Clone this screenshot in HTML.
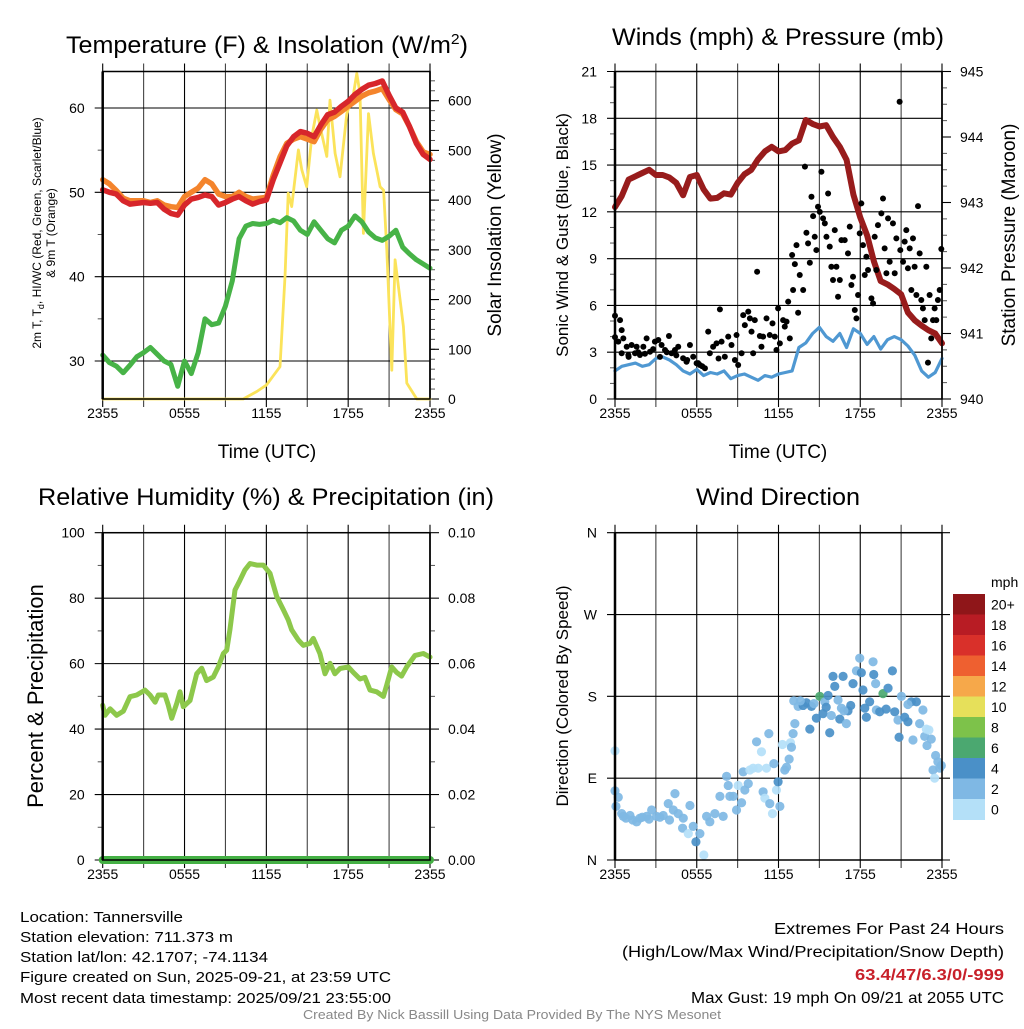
<!DOCTYPE html>
<html><head><meta charset="utf-8"><style>
html,body{margin:0;padding:0;background:#fff}
svg text{font-family:"Liberation Sans",Arial,sans-serif;fill:#000}
</style></head><body>
<svg id="svg" width="1024" height="1024" viewBox="0 0 1024 1024" xmlns="http://www.w3.org/2000/svg">
<rect width="1024" height="1024" fill="#fff"/>
<g id="layer"></g>
<text x="267" y="53" font-size="24" text-anchor="middle" textLength="402" lengthAdjust="spacingAndGlyphs">Temperature (F) &amp; Insolation (W/m<tspan dy="-9" font-size="15">2</tspan><tspan dy="9">)</tspan></text>
<text x="778" y="45" font-size="24" text-anchor="middle" textLength="332" lengthAdjust="spacingAndGlyphs">Winds (mph) &amp; Pressure (mb)</text>
<text x="266" y="505" font-size="24" text-anchor="middle" textLength="456" lengthAdjust="spacingAndGlyphs">Relative Humidity (%) &amp; Precipitation (in)</text>
<text x="778" y="505" font-size="24" text-anchor="middle" textLength="164" lengthAdjust="spacingAndGlyphs">Wind Direction</text>
<text x="267" y="458" font-size="19" text-anchor="middle">Time (UTC)</text>
<text x="778" y="458" font-size="19" text-anchor="middle">Time (UTC)</text>
<text transform="translate(41,233) rotate(-90)" font-size="12" text-anchor="middle">2m T, T<tspan font-size="9" dy="3">d</tspan><tspan dy="-3">, HI/WC (Red, Green, Scarlet/Blue)</tspan></text>
<text transform="translate(55,233) rotate(-90)" font-size="12" text-anchor="middle">&amp; 9m T (Orange)</text>
<text transform="translate(501,235) rotate(-90)" font-size="19" text-anchor="middle">Solar Insolation (Yellow)</text>
<text transform="translate(568,235) rotate(-90)" font-size="17" text-anchor="middle">Sonic Wind &amp; Gust (Blue, Black)</text>
<text transform="translate(1015,235) rotate(-90)" font-size="19" text-anchor="middle">Station Pressure (Maroon)</text>
<text transform="translate(43,696) rotate(-90)" font-size="22" text-anchor="middle">Percent &amp; Precipitation</text>
<text transform="translate(568,696) rotate(-90)" font-size="17" text-anchor="middle">Direction (Colored By Speed)</text>
<text x="991" y="587" font-size="14">mph</text>
<g font-size="15">
<text x="20" y="922" textLength="163" lengthAdjust="spacingAndGlyphs">Location: Tannersville</text>
<text x="20" y="942" textLength="213" lengthAdjust="spacingAndGlyphs">Station elevation: 711.373 m</text>
<text x="20" y="962" textLength="248" lengthAdjust="spacingAndGlyphs">Station lat/lon: 42.1707; -74.1134</text>
<text x="20" y="982" textLength="371" lengthAdjust="spacingAndGlyphs">Figure created on Sun, 2025-09-21, at 23:59 UTC</text>
<text x="20" y="1003" textLength="371" lengthAdjust="spacingAndGlyphs">Most recent data timestamp: 2025/09/21 23:55:00</text>
</g>
<g font-size="16" text-anchor="end">
<text x="1004" y="934" textLength="230" lengthAdjust="spacingAndGlyphs">Extremes For Past 24 Hours</text>
<text x="1004" y="957" textLength="382" lengthAdjust="spacingAndGlyphs">(High/Low/Max Wind/Precipitation/Snow Depth)</text>
<text x="1004" y="980" style="fill:#c8202a" font-weight="bold" textLength="149" lengthAdjust="spacingAndGlyphs">63.4/47/6.3/0/-999</text>
<text x="1004" y="1003" textLength="313" lengthAdjust="spacingAndGlyphs">Max Gust: 19 mph On 09/21 at 2055 UTC</text>
</g>
<text x="512" y="1019" font-size="13" text-anchor="middle" style="fill:#888" textLength="418" lengthAdjust="spacingAndGlyphs">Created By Nick Bassill Using Data Provided By The NYS Mesonet</text>
</svg>
<script>
// ---- data ----
const halfHours=[];for(let i=0;i<=48;i++)halfHours.push(i/2);
const tempRed=[50.3,50,49.8,49,48.6,48.7,48.8,48.7,48.8,48,47.5,47.3,48.5,49.2,49.4,49.7,49.5,48.5,48.8,49.2,49.5,49,48.6,48.9,49.1,51.5,53.5,55.5,56.6,57.2,57,56.6,58,59.2,59.5,60.2,60.8,61.6,62.2,62.7,62.9,63.2,61.5,60,59.5,57.8,55.8,54.5,53.9];
const tempOrange=[51.5,51,50.2,49.3,49,49,49,48.8,49,48.5,48.3,48.2,49.5,50,50.5,51.5,51,49.8,49.5,49.5,50,49.5,49.2,49.3,49.4,52,54.2,55.8,56.3,56.6,56.3,56,57.5,58.6,59,59.6,60.2,60.8,61.4,61.8,62,62.3,61,59.8,59.3,57.8,56,54.8,54.5];
const dewGreen=[30.7,29.8,29.4,28.6,29.5,30.5,31,31.6,30.8,30,29.6,27,30,28.5,31,35,34.3,34.5,36.5,39.5,44.5,46,46.3,46.2,46.3,46.7,46.4,47,46.6,45.5,45,46.5,45.5,44.5,44,45.5,46,47.2,46.5,45.3,44.6,44.3,44.8,45.5,43.5,42.7,42,41.5,41];
const solHours=[0,10.3,11.3,12.0,13.0,13.37,13.6,13.86,14.35,14.6,14.96,15.33,15.7,15.94,16.43,16.67,17.04,17.4,17.9,18.39,18.63,18.87,19.12,19.49,19.85,20.34,20.6,20.83,21.2,21.44,22.05,22.3,23.03,24];
const solVals=[0,0,15,28,65,246,414,387,501,461,427,528,581,548,488,601,494,447,574,614,655,614,333,574,494,427,420,300,58,280,146,32,0,0];
const pressure=[942.93,943.1,943.35,943.4,943.45,943.5,943.42,943.42,943.38,943.3,943.11,943.39,943.42,943.2,943.06,943.07,943.14,943.12,943.3,943.43,943.5,943.66,943.78,943.85,943.78,943.8,943.9,943.95,944.26,944.2,944.16,944.18,944.0,943.85,943.65,943.12,942.77,942.5,942.1,941.8,941.75,941.68,941.6,941.32,941.2,941.12,941.05,941.0,940.85];
const sonicWind=[1.8,2.1,2.2,2.3,2.1,2.2,2.6,2.7,2.5,2.2,1.8,1.6,1.9,1.5,1.7,1.6,1.8,1.3,1.5,1.6,1.4,1.2,1.5,1.4,1.6,1.7,1.8,3.3,3.6,4.2,4.6,4.0,3.7,4.2,3.3,4.5,4.2,3.5,4.0,3.2,3.8,4.0,3.8,3.4,2.8,1.8,1.4,1.7,2.6];
const gustHours=[0,0,0.24,0.37,0.49,0.61,0.49,0.86,0.98,1.22,1.47,1.59,1.83,2.08,2.32,2.57,2.93,3.18,3.42,3.67,3.96,4.15,4.4,4.64,5.0,5.25,5.5,5.74,5.99,6.23,6.6,6.84,6.96,7.2,7.45,7.7,7.82,8.06,8.31,8.55,8.92,9.04,9.29,9.41,9.53,9.78,9.9,10.02,10.14,10.26,10.43,10.63,10.75,10.87,11.12,11.36,11.56,11.73,11.85,11.97,12.1,12.34,12.46,12.59,12.71,12.83,13.0,13.07,13.2,13.32,13.44,13.56,13.81,13.94,14.05,14.17,14.3,14.42,14.54,14.66,14.78,14.9,15.03,15.15,15.27,15.4,15.52,15.64,15.76,15.88,16.0,16.13,16.25,16.37,16.5,16.62,16.86,17.1,17.23,17.35,17.47,17.6,17.72,17.84,17.96,18.08,18.2,18.33,18.45,18.57,18.82,18.94,19.06,19.18,19.3,19.55,19.67,19.79,19.92,20.04,20.16,20.4,20.53,20.65,20.89,20.94,21.14,21.26,21.38,21.5,21.63,21.75,21.87,21.99,22.12,22.24,22.36,22.48,22.6,22.73,22.85,22.97,23.09,23.21,23.34,23.46,23.58,23.7,23.83,23.95,1.0,1.7,2.2,2.8,3.3,3.8,4.5,5.3,6.1,6.4,7.6,8.8];
const gustVals=[5.34,3.97,3.68,5.06,4.42,3.89,2.93,3.35,2.82,3.46,2.93,3.35,2.82,3.35,3.89,3.03,3.68,3.78,3.46,3.14,4.04,2.93,3.14,3.35,2.61,2.39,3.46,2.71,2.29,2.18,1.97,4.32,2.93,3.35,3.57,5.75,3.68,2.71,4.0,3.46,4.1,2.18,2.93,5.38,4.74,5.6,5.17,4.32,2.93,5.06,8.16,4.04,3.35,4.0,5.17,4.1,4.85,4.0,3.14,5.81,3.57,5.06,4.64,4.96,6.24,3.89,9.23,6.99,8.65,9.87,5.53,7.95,6.99,14.9,10.66,9.98,8.74,12.97,11.73,10.4,9.55,12.33,12.0,14.57,11.58,11.26,10.4,13.18,9.77,8.48,7.63,10.83,8.48,6.56,7.63,10.19,10.19,9.34,11.05,7.31,7.84,5.71,5.17,6.67,10.62,12.54,9.87,7.95,9.12,8.27,6.45,6.13,10.4,8.27,11.15,11.9,12.86,9.66,8.06,11.58,8.8,11.26,8.06,10.3,19.06,9.55,8.8,10.09,10.83,8.38,9.66,6.99,10.3,8.48,6.67,12.37,9.34,6.35,5.81,5.06,8.48,2.33,6.67,3.89,5.06,5.81,5.06,6.35,6.99,9.62,2.7,3.0,2.9,3.2,2.7,3.0,2.8,2.5,2.3,2.1,2.6,2.5];
const rhHours=[0,0.17,0.54,1.03,1.52,2.0,2.49,3.1,3.47,3.84,4.08,4.57,4.81,5.06,5.43,5.67,5.91,6.4,6.89,7.26,7.62,8.11,8.48,8.85,9.09,9.33,9.7,10.07,10.43,10.8,11.29,11.78,12.27,12.76,13.25,13.61,13.86,14.35,14.71,15.2,15.44,15.93,16.3,16.67,17.03,17.4,18.01,18.38,18.87,19.23,19.6,20.09,20.58,20.82,21.19,21.56,21.92,22.29,22.9,23.51,24];
const rhVals=[47.3,44.2,46.2,44.2,45.5,49.9,50.4,51.9,50.4,48.2,50.4,50.4,47.3,43.3,47.9,51.4,46.8,48.7,56.9,58.6,54.8,55.9,59,63.1,64.1,70.3,82.5,85.5,88.6,90.6,90.1,90.1,87.6,80.5,76.4,73.3,70.3,67.2,65.6,66.2,67.7,63.1,56.9,60.1,56.9,58.5,59,57.3,55.3,55.8,51.9,51.4,50,53.3,59,57.3,56.2,59,62.5,63.1,62];
const precipHours=[0,24];
const precipVals=[0,0];
const wdHours=[0,0,0.07,0.24,0.49,0.61,1.1,1.59,1.83,2.32,2.69,3.05,3.54,3.91,4.4,4.28,4.64,5.01,4.96,5.38,5.5,5.74,5.94,6.23,6.52,6.72,6.96,7.33,7.7,7.94,8.19,8.31,8.43,8.68,8.92,9.04,9.29,9.41,9.53,9.78,9.9,10.14,10.39,10.51,10.75,10.87,11.0,11.12,11.29,11.36,11.56,11.66,11.85,11.97,12.1,12.29,12.46,12.59,12.78,12.88,12.95,13.07,13.2,13.12,13.44,13.81,14.05,14.3,14.42,14.78,15.03,15.27,15.4,15.64,15.76,15.88,16.0,16.13,16.37,16.5,16.62,16.74,16.98,17.1,17.47,17.72,17.96,18.08,18.2,18.33,18.45,18.69,18.94,18.99,19.13,19.18,19.43,19.67,20.04,20.36,20.53,20.77,20.85,21.02,21.26,21.5,21.75,21.87,22.12,22.36,22.6,22.73,22.85,23.04,22.9,23.21,23.53,23.7,23.83,23.34,23.46,23.95,0.8,1.3,2.0,2.5,3.3,4.0,14.6,15.5,17.3,19.9,21.5,13.6,16.8];
const wdDeg=[120,76,59,69,51,48,49,42,46,48,55,48,49,62,73,55,51,46,35,29,60,37,20,29,5.5,48,42,51,70,48,92,82,70,70,55,82,63,97,77,84,99,101,130,101,119,75,68,101,139,62,51,106,77,86,59,127,99,102,111,129,124,139,150,175,169,170,173,144,169,156,180,161,174,181,140,159,202,191,176,155,167,202,150,164,194,208,222,206,187,167,157,174,218,204,194,165,163,183,189,208,163,154,135,180,157,152,174,132,174,150,165,136,144,143,126,133,115,108,101,99,90,104,46,44,47,45,47,44,172,168,170,166,171,175,164];
const wdSpeed=[1,3,3,3,3,3,3,3,3,3,3,3,3,3,3,3,3,3,3,1,3,3,5,3,1,3,3,3,3,3,3,3,3,3,3,1,3,3,3,3,1,1,3,1,1,3,1,1,3,3,1,3,1,5,3,1,3,3,3,1,3,3,3,3,3,5,5,5,5,5,7,5,3,5,5,3,5,5,3,5,3,5,3,5,5,3,3,5,5,5,5,5,3,5,3,3,5,7,5,5,5,3,5,3,5,5,5,3,5,3,3,3,1,1,3,3,3,3,3,3,1,3,3,3,3,3,3,3,3,5,5,5,3,3,3];
const cbarLabels=["20+","18","16","14","12","10","8","6","4","2","0"];
const cbarColors=["#8f1619","#b81c24","#d9302a","#ee6030","#f6a84a","#e6e05a","#7dc24a","#4ba870","#4a90c8","#7fb8e4","#b4e0f8"];
const timeLabels=["2355","0555","1155","1755","2355"];
const p1LeftTicks=[30,40,50,60];
const p1RightTicks=[0,100,200,300,400,500,600];
const p2LeftTicks=[0,3,6,9,12,15,18,21];
const p2RightTicks=[940,941,942,943,944,945];
const p3LeftTicks=[0,20,40,60,80,100];
const p3RightTicks=["0.00","0.02","0.04","0.06","0.08","0.10"];
const p4Ticks=["N","E","S","W","N"];

// ---- helpers ----
const NS="http://www.w3.org/2000/svg";
const layer=document.getElementById('layer');
function mk(tag,attrs,parent){const e=document.createElementNS(NS,tag);for(const k in attrs)e.setAttribute(k,attrs[k]);(parent||layer).appendChild(e);return e;}
function lin(d0,d1,r0,r1){return v=>r0+(v-d0)*(r1-r0)/(d1-d0);}
function txt(s,x,y,size,anchor,parent){const t=mk('text',{x:x,y:y,'font-size':size,'text-anchor':anchor},parent);t.textContent=s;return t;}

function frame(P,name){
  const g=mk('g',{});
  
  
  P.g=g;
  for(let h=0;h<=24;h+=3){const x=P.x(h);
    mk('line',{x1:x,y1:P.yt-8,x2:x,y2:P.yb+8,stroke:(h%6===0?'#000':'#444'),'stroke-width':1.1},g);}
  return g;
}
function polyline(P,xs,ys,fy,color,w,name){
  let d='';for(let i=0;i<xs.length;i++)d+=(i?'L':'M')+P.x(xs[i]).toFixed(1)+' '+fy(ys[i]).toFixed(1);
  const p=mk('path',{d:d,fill:'none',stroke:color,'stroke-width':w,'stroke-linejoin':'round','stroke-linecap':'round'},P.g);
  
  
  return p;
}
function hgrid(P,vals,fy){for(const v of vals){const y=fy(v);mk('line',{x1:P.xl-8,y1:y,x2:P.xr,y2:y,stroke:'#000','stroke-width':1.1},P.g);}}
function rticks(P,vals,fy,labels,minor){
  mk('line',{x1:P.xr,y1:P.yt,x2:P.xr,y2:P.yb,stroke:'#000','stroke-width':1.5},P.g);
  for(const v of minor){const y=fy(v);mk('line',{x1:P.xr,y1:y,x2:P.xr+5,y2:y,stroke:'#555','stroke-width':1},P.g);}
  vals.forEach((v,i)=>{const y=fy(v);mk('line',{x1:P.xr,y1:y,x2:P.xr+9,y2:y,stroke:'#000','stroke-width':1.1},P.g);
    const t=txt(labels[i],P.xr+18,y+5,14,'start',P.g);
    
    });
}
function lticks(P,vals,fy,labels,minor){
  for(const v of minor){const y=fy(v);mk('line',{x1:P.xl-5,y1:y,x2:P.xl,y2:y,stroke:'#555','stroke-width':1},P.g);}
  vals.forEach((v,i)=>{const t=txt(labels[i],P.xl-18,fy(v)+5,14,'end',P.g);
    
    });
}
function xlabels(P){timeLabels.forEach((s,i)=>{const t=txt(s,P.x(i*6),P.yb+19,14,'middle',P.g);
  
  });}
function border(P){mk('rect',{x:P.xl,y:P.yt,width:P.xr-P.xl,height:P.yb-P.yt,fill:'none',stroke:'#000','stroke-width':1.5},P.g);
  mk('line',{x1:P.xl,y1:P.yt,x2:P.xl,y2:P.yb,stroke:'#000','stroke-width':2.5},P.g);}
function range(a,b,s){const r=[];for(let v=a;v<=b+1e-9;v+=s)r.push(+v.toFixed(4));return r;}

// ---- panel 1 ----
const P1={xl:102.7,xr:430,yt:71.5,yb:399}; P1.x=lin(0,24,P1.xl,P1.xr);
const t1=lin(60,30,108,361), s1=lin(0,600,399,100.7);
frame(P1,'temperature-panel'); hgrid(P1,p1LeftTicks,t1);
lticks(P1,p1LeftTicks,t1,p1LeftTicks.map(String),range(30,60,5).filter(v=>v%10!==0));
rticks(P1,p1RightTicks,s1,p1RightTicks.map(String),range(20,640,20));
polyline(P1,solHours,solVals,s1,'#fbe35a',2.8,'solar-insolation-line');
polyline(P1,halfHours,dewGreen,t1,'#47b347',5,'dewpoint-line');
polyline(P1,halfHours,tempOrange,t1,'#f4842c',5.5,'9m-temperature-line');
polyline(P1,halfHours,tempRed,t1,'#d7262b',5.5,'2m-temperature-line');
border(P1); xlabels(P1);

// ---- panel 2 ----
const P2={xl:615,xr:942,yt:71.5,yb:399}; P2.x=lin(0,24,P2.xl,P2.xr);
const w2=lin(0,21,399,71.5), pr2=lin(940,945,399,71.5);
frame(P2,'wind-panel'); hgrid(P2,p2LeftTicks,w2);
lticks(P2,p2LeftTicks,w2,p2LeftTicks.map(String),range(0,21,1).filter(v=>v%3!==0));
rticks(P2,p2RightTicks,pr2,p2RightTicks.map(String),range(940,945,0.25));
polyline(P2,halfHours,sonicWind,w2,'#4f98d2',3.2,'sonic-wind-line');
polyline(P2,halfHours,pressure,pr2,'#981c1c',6,'pressure-line');
for(let i=0;i<gustHours.length;i++){
  const c=mk('circle',{cx:P2.x(gustHours[i]),cy:w2(gustVals[i]),r:3,fill:'#000'},P2.g);
  
  
}
border(P2); xlabels(P2);

// ---- panel 3 ----
const P3={xl:102.7,xr:430,yt:532.7,yb:860}; P3.x=lin(0,24,P3.xl,P3.xr);
const r3=lin(0,100,860,532.7), pc3=lin(0,0.1,860,532.7);
frame(P3,'humidity-panel'); hgrid(P3,p3LeftTicks,r3);
lticks(P3,p3LeftTicks,r3,p3LeftTicks.map(String),range(10,90,20));
rticks(P3,p3RightTicks.map(Number),pc3,p3RightTicks,range(0.01,0.09,0.02));
polyline(P3,rhHours,rhVals,r3,'#8dc84b',5,'relative-humidity-line');
polyline(P3,precipHours,precipVals,pc3,'#44b044',8,'precipitation-line');
border(P3); xlabels(P3);

// ---- panel 4 ----
const P4={xl:615,xr:942,yt:532.7,yb:860}; P4.x=lin(0,24,P4.xl,P4.xr);
const d4=lin(0,360,860,532.7);
frame(P4,'wind-direction-panel');
p4Ticks.forEach((s,i)=>{const y=d4(i*90);mk('line',{x1:P4.xl-8,y1:y,x2:P4.xr+8,y2:y,stroke:'#000','stroke-width':1.1},P4.g);
  const t=txt(s,P4.xl-18,y+5,14,'end',P4.g);
  
  });
function spdColor(s){let idx=Math.min(10,Math.floor(s/2));return cbarColors[10-idx];}
for(let i=0;i<wdHours.length;i++){
  const c=mk('circle',{cx:P4.x(wdHours[i]),cy:d4(wdDeg[i]),r:4.6,fill:spdColor(wdSpeed[i]),'fill-opacity':0.92},P4.g);
  
  
}
border(P4); xlabels(P4);
// colorbar
const cb=mk('g',{});


const cbTop=594, cbH=20.5;
cbarColors.forEach((c,i)=>{mk('rect',{x:953,y:cbTop+i*cbH,width:32,height:cbH+0.5,fill:c},cb);
  const t=txt(cbarLabels[i],991,cbTop+i*cbH+cbH/2+5,14,'start',cb);
  
  });
</script>
</body></html>
